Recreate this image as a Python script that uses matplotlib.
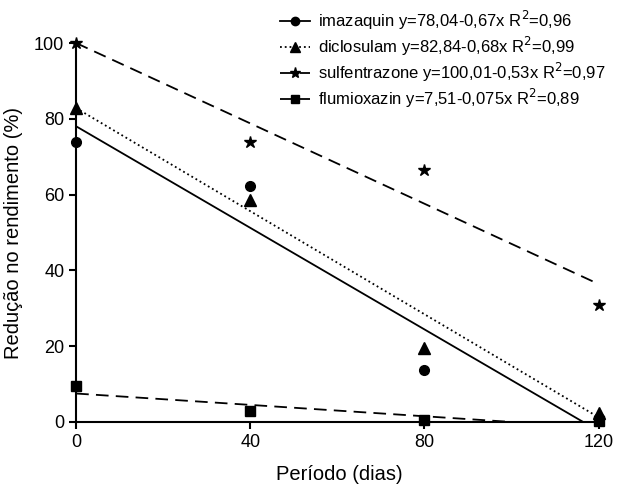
import matplotlib
matplotlib.use("Agg")
import matplotlib.pyplot as plt
import numpy as np

plt.rcParams['font.family'] = ['Liberation Sans', 'DejaVu Sans']

days = [0, 40, 80, 120]
imazaquin = [74.0, 62.3, 13.6, 1.0]
diclosulam = [83.0, 58.5, 19.5, 2.5]
sulfentrazone = [100.0, 74.0, 66.5, 31.0]
flumioxazin = [9.5, 2.8, 0.6, 0.2]

# regression coefficients (intercept, slope) from the legend
coef_imazaquin = (78.04, -0.67)
coef_diclosulam = (82.84, -0.68)
coef_sulfentrazone = (100.01, -0.53)
coef_flumioxazin = (7.51, -0.075)

labels = ["imazaquin y=78,04-0,67x R$^2$=0,96",
          "diclosulam y=82,84-0,68x R$^2$=0,99",
          "sulfentrazone y=100,01-0,53x R$^2$=0,97",
          "flumioxazin y=7,51-0,075x R$^2$=0,89"]

fig = plt.figure(figsize=(6.19, 4.87), dpi=100)
ax = fig.add_axes([0.123, 0.1335, 0.851, 0.778])

series = [
    (imazaquin, coef_imazaquin, 'o', '-', 7),
    (diclosulam, coef_diclosulam, '^', ':', 8),
    (sulfentrazone, coef_sulfentrazone, '*', (0, (7, 4)), 9),
    (flumioxazin, coef_flumioxazin, 's', (0, (7, 4)), 7),
]

xs = np.linspace(0, 120, 500)
handles = []
for (vals, (a, b), mk, ls, ms), lab in zip(series, labels):
    yline = a + b * xs
    mask = yline >= 0
    ax.plot(xs[mask], yline[mask], color='black', linestyle=ls, lw=1.3)
    ax.plot(days, vals, linestyle='none', marker=mk, color='black', ms=ms, clip_on=False, zorder=5)
    h, = ax.plot([], [], color='black', linestyle=ls, marker=mk, ms=ms - 1, lw=1.3, label=lab)
    handles.append(h)

ax.set_xlim(0, 121)
ax.set_ylim(0, 100)
ax.set_xticks([0, 40, 80, 120])
ax.set_yticks([0, 20, 40, 60, 80, 100])
for s in ['top', 'right']:
    ax.spines[s].set_visible(False)
for s in ['left', 'bottom']:
    ax.spines[s].set_linewidth(1.5)
ax.tick_params(direction='out', length=5, width=1.5, labelsize=13)
ax.set_xlabel("Período (dias)", fontsize=14.5, labelpad=10)
ax.set_ylabel("Redução no rendimento (%)", fontsize=14.5, labelpad=8)

leg = fig.legend(handles=handles, loc='upper left', bbox_to_anchor=(0.441, 0.995),
                 frameon=False, fontsize=12, handlelength=1.8, handletextpad=0.5,
                 labelspacing=0.17, borderaxespad=0)

fig.savefig("out.png", dpi=100)
